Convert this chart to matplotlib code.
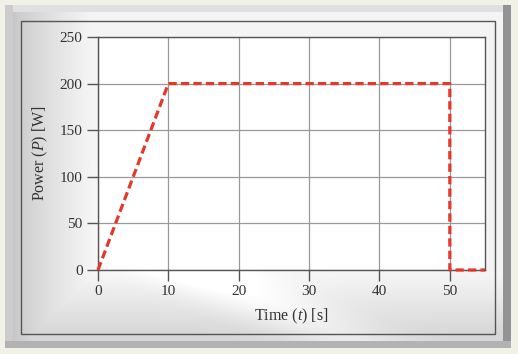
import numpy as np
import matplotlib
matplotlib.use("Agg")
import matplotlib.pyplot as plt

## Data ----------------------
time_s = [0, 10, 50, 50, 55]
power_w = [0, 200, 200, 0, 0]
x_ticks = [0, 10, 20, 30, 40, 50]
y_ticks = [0, 50, 100, 150, 200, 250]

plt.rcParams["font.family"] = "Liberation Serif"
plt.rcParams["mathtext.fontset"] = "custom"
plt.rcParams["mathtext.rm"] = "Liberation Serif"
plt.rcParams["mathtext.it"] = "Liberation Serif:italic"

W, H = 518, 354


# Build the bevelled grey frame behind the chart
def frame_image():
    img = np.ones((H, W, 3))
    img[:] = np.array([241, 241, 231]) / 255
    yy, xx = np.mgrid[0:H, 0:W]

    def fill(x0, x1, y0, y1, val):
        m = (xx >= x0) & (xx < x1) & (yy >= y0) & (yy < y1)
        img[m] = val

    fill(5, 511, 5, 348, np.array([0.74, 0.74, 0.74]))
    fill(5, 511, 5, 12, np.array([0.88, 0.88, 0.88]))
    fill(5, 13, 5, 348, np.array([0.80, 0.80, 0.80]))
    fill(503, 511, 5, 348, np.array([0.58, 0.58, 0.58]))
    fill(5, 511, 341, 348, np.array([0.70, 0.70, 0.70]))

    # inner panel with soft gradient
    m = (xx >= 13) & (xx < 503) & (yy >= 12) & (yy < 341)
    g = 0.78 + 0.22 * np.clip((xx - 13) / 100.0, 0, 1) ** 0.8
    bottom = 0.96 - 0.12 * np.clip((yy - 275) / 60.0, 0, 1)
    streak = 0.08 * np.exp(-((xx - 2.2 * (yy - 250) - 150) / 60.0) ** 2)
    g = np.minimum(g, bottom + streak)
    g = np.minimum(g, 1.0)
    for c in range(3):
        img[..., c][m] = g[m]
    return img


fig = plt.figure(figsize=(W / 100, H / 100), dpi=100)

bg = fig.add_axes([0, 0, 1, 1])
bg.imshow(frame_image(), extent=(0, W, H, 0), aspect="auto", interpolation="bilinear")
bg.add_patch(plt.Rectangle((21, 21), 474, 313, fill=False, edgecolor="#555555", lw=1.0))
bg.set_xlim(0, W)
bg.set_ylim(H, 0)
bg.axis("off")

ax = fig.add_axes([98 / W, 1 - 270 / H, 387 / W, 233 / H])
ax.set_facecolor("white")
ax.plot(time_s, power_w, color="#e5372a", lw=2.3, dashes=(2.6, 1.3), zorder=3,
        clip_on=False)

ax.set_xlim(0, 55)
ax.set_ylim(0, 250)
ax.set_xticks(x_ticks)
ax.set_yticks(y_ticks)
ax.grid(True, color="#999999", lw=0.9)
ax.set_axisbelow(True)
ax.tick_params(direction="out", length=8, width=1.0, color="#555555",
               labelsize=11, labelcolor="#333333", pad=3)
for s in ax.spines.values():
    s.set_color("#555555")
    s.set_linewidth(1.0)

ax.set_xlabel("Time ($t$) [s]", fontsize=11.5, color="#333333", labelpad=6)
ax.set_ylabel("Power ($P$) [W]", fontsize=11.5, color="#333333", labelpad=7)

fig.savefig("out.png", dpi=100)
